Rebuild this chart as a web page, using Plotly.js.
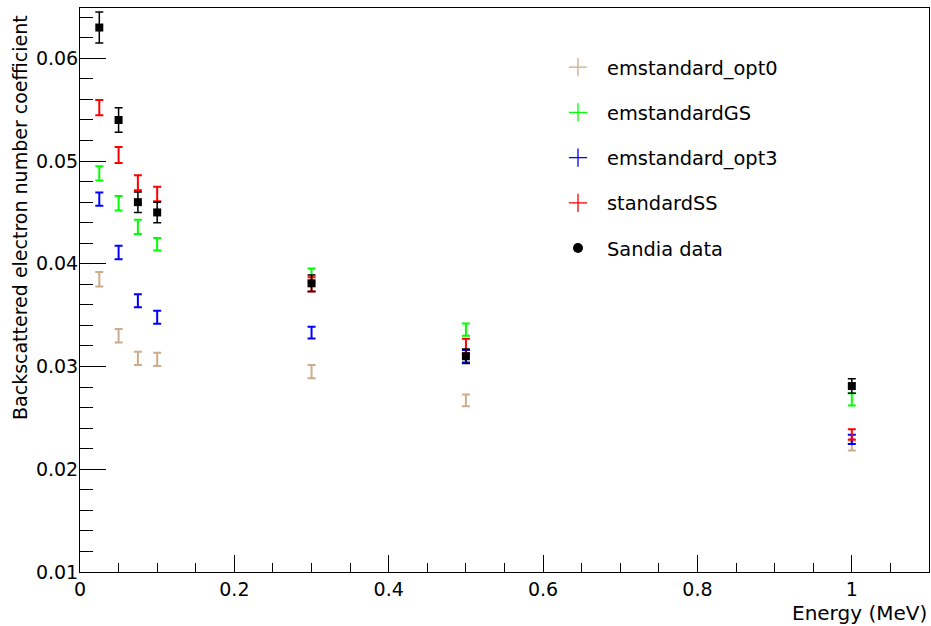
<!DOCTYPE html>
<html>
<head>
<meta charset="utf-8">
<script src="https://cdn.plot.ly/plotly-3.0.1.min.js"></script>
<style>html,body{margin:0;padding:0;background:#fff;}#chart{width:931px;height:626px;}</style>
</head>
<body>
<div id="chart"></div>
<script>
// Energies (MeV)
const energy = [0.025, 0.05, 0.075, 0.1, 0.3, 0.5, 1.0];

// Series names
const seriesNames = ["emstandard_opt0", "emstandardGS", "emstandard_opt3", "standardSS", "Sandia data"];

// Backscattered electron number coefficient values and errors
const opt0 = [0.0385, 0.0330, 0.0308, 0.0307, 0.0295, 0.0267, 0.0223];
const opt0Err = [0.0007, 0.00065, 0.00065, 0.00065, 0.00065, 0.00057, 0.00047];

const gs = [0.0488, 0.0459, 0.0436, 0.0419, 0.0389, 0.0336, 0.0268];
const gsErr = [0.0007, 0.0007, 0.0007, 0.0006, 0.00065, 0.0006, 0.0006];

const opt3 = [0.0463, 0.0411, 0.0364, 0.0348, 0.0333, 0.0310, 0.0229];
const opt3Err = [0.00065, 0.00065, 0.00063, 0.00063, 0.00057, 0.0006, 0.00045];

const ss = [0.0552, 0.0506, 0.0479, 0.0468, 0.0380, 0.0320, 0.0234];
const ssErr = [0.00075, 0.00078, 0.00073, 0.0007, 0.0007, 0.0007, 0.0005];

const sandia = [0.0630, 0.0540, 0.0460, 0.0450, 0.0381, 0.0310, 0.0281];
const sandiaErr = [0.0015, 0.0012, 0.0010, 0.0010, 0.0008, 0.0007, 0.0007];

const colors = ["rgb(205,172,140)", "#00ff00", "#0000ff", "#ff0000", "#000000"];
const simValues = [opt0, gs, opt3, ss];
const simErrors = [opt0Err, gsErr, opt3Err, ssErr];

const traces = [];
for (let i = 0; i < 4; i++) {
  traces.push({
    x: energy, y: simValues[i], type: "scatter", mode: "markers",
    marker: {size: 1, color: colors[i], opacity: 0},
    error_y: {type: "data", array: simErrors[i], visible: true, color: colors[i], thickness: 2, width: 4},
    showlegend: false, hoverinfo: "skip"
  });
}
traces.push({
  x: energy, y: sandia, type: "scatter", mode: "markers",
  marker: {symbol: "square", size: 8, color: "#000"},
  error_y: {type: "data", array: sandiaErr, visible: true, color: "#000", thickness: 1.5, width: 4},
  showlegend: false, hoverinfo: "skip"
});
// legend entries
for (let i = 0; i < 5; i++) {
  const isData = i === 4;
  traces.push({
    x: [null], y: [null], type: "scatter", mode: "markers",
    name: seriesNames[i], legendgroup: "g" + i,
    marker: isData ? {symbol: "circle", size: 10, color: "#000"}
                   : {symbol: "cross-thin-open", size: 13, color: colors[i], line: {color: colors[i], width: 1.3}},
    showlegend: true
  });
}

const font = {family: "DejaVu Sans, sans-serif", color: "#000"};
const layout = {
  width: 931, height: 626,
  margin: {l: 80, r: 2, t: 8, b: 54},
  paper_bgcolor: "#fff", plot_bgcolor: "#fff",
  font: Object.assign({size: 19}, font),
  showlegend: true,
  legend: {x: 0.5524, y: 0.929, xanchor: "left", yanchor: "top", bgcolor: "rgba(0,0,0,0)",
           font: Object.assign({size: 19.4}, font), tracegroupgap: 17, itemwidth: 48},
  xaxis: {
    range: [0, 1.1], showgrid: false, zeroline: false,
    showline: true, mirror: true, linecolor: "#000", linewidth: 1,
    ticks: "inside", ticklen: 17, tickcolor: "#000", tickwidth: 1,
    dtick: 0.2, tick0: 0, tickfont: Object.assign({size: 19}, font),
    minor: {dtick: 0.05, ticks: "inside", ticklen: 9, tickcolor: "#000", tickwidth: 1}
  },
  yaxis: {
    range: [0.01, 0.0649], showgrid: false, zeroline: false,
    showline: true, mirror: true, linecolor: "#000", linewidth: 1,
    ticks: "inside", ticklen: 26, tickcolor: "#000", tickwidth: 1,
    dtick: 0.01, tick0: 0, tickformat: ".2f", tickfont: Object.assign({size: 19}, font),
    ticklabelstandoff: -3,
    minor: {dtick: 0.002, ticks: "inside", ticklen: 13, tickcolor: "#000", tickwidth: 1}
  },
  annotations: [
    {text: "Energy (MeV)", xref: "paper", yref: "paper", x: 1.0, y: -0.0727,
     xanchor: "right", yanchor: "middle", showarrow: false, font: Object.assign({size: 20}, font)},
    {text: "Backscattered electron number coefficient", xref: "paper", yref: "paper",
     x: -0.0707, y: 0.6294, xanchor: "center", yanchor: "middle", textangle: -90,
     showarrow: false, font: Object.assign({size: 19}, font)}
  ]
};

Plotly.newPlot("chart", traces, layout, {displayModeBar: false, staticPlot: true});
</script>
</body>
</html>
